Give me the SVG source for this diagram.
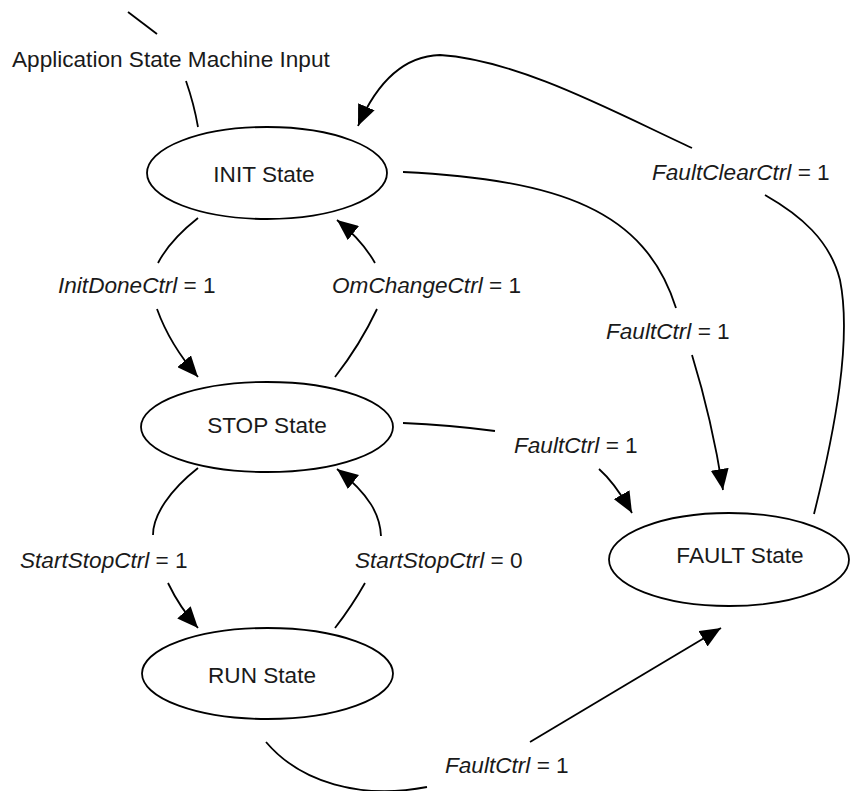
<svg xmlns="http://www.w3.org/2000/svg" width="850" height="791" viewBox="0 0 850 791">
<style>
  .node ellipse { fill: #ffffff; stroke: #000000; stroke-width: 1.8; }
  .node text { font-family: "Liberation Sans", Arial, sans-serif; font-size: 22.6px; fill: #1a1a1a; text-anchor: middle; }
  .edges path { fill: none; stroke: #000000; stroke-width: 1.8; }
  .lbl { font-family: "Liberation Sans", Arial, sans-serif; font-size: 22.6px; fill: #1a1a1a; }
  .it { font-style: italic; }
</style>
<defs>
  <marker id="arr" markerUnits="userSpaceOnUse" markerWidth="21" markerHeight="18" refX="21" refY="9" orient="auto">
    <path d="M0,0 L21,9 L0,18 z" fill="#000000"/>
  </marker>
</defs>
<rect width="850" height="791" fill="#ffffff"/>

<g id="edges" class="edges">
  <!-- input -->
  <path d="M128,12 L157,34"/>
  <path d="M186,81 Q194,104 198,127"/>
  <!-- FaultClearCtrl: FAULT -> INIT -->
  <path d="M814,514 C835,430 852,340 840,280 C830,240 800,215 765,195"/>
  <path d="M692,148 C620,115 520,60 440,55 C405,56 378,80 358,126" marker-end="url(#arr)"/>
  <!-- FaultCtrl: INIT -> FAULT -->
  <path d="M403,172 C560,180 645,210 676,308"/>
  <path d="M692,355 Q712,420 723,490" marker-end="url(#arr)"/>
  <!-- FaultCtrl: STOP -> FAULT -->
  <path d="M403,423 Q450,425 495,431"/>
  <path d="M599,469 Q615,483 632,513" marker-end="url(#arr)"/>
  <!-- InitDoneCtrl: INIT -> STOP -->
  <path d="M198,218 Q170,240 158,263"/>
  <path d="M157,309 Q170,345 198,377" marker-end="url(#arr)"/>
  <!-- OmChangeCtrl: STOP -> INIT -->
  <path d="M335,377 Q360,345 377,309"/>
  <path d="M375,263 Q362,240 337,220" marker-end="url(#arr)"/>
  <!-- StartStopCtrl=1: STOP -> RUN -->
  <path d="M198,468 C170,490 153,515 153,535"/>
  <path d="M168,583 Q180,608 198,628" marker-end="url(#arr)"/>
  <!-- StartStopCtrl=0: RUN -> STOP -->
  <path d="M335,628 Q352,606 365,583"/>
  <path d="M381,536 C380,515 370,495 337,469" marker-end="url(#arr)"/>
  <!-- FaultCtrl: RUN -> FAULT -->
  <path d="M266,742 C300,782 360,800 427,787"/>
  <path d="M530,742 L721,628" marker-end="url(#arr)"/>
</g>

<g id="labels">
  <text class="lbl" x="12" y="67">Application State Machine Input</text>
  <text class="lbl" x="652" y="180"><tspan class="it">FaultClearCtrl</tspan> = 1</text>
  <text class="lbl" x="606" y="339"><tspan class="it">FaultCtrl</tspan> = 1</text>
  <text class="lbl" x="514" y="453"><tspan class="it">FaultCtrl</tspan> = 1</text>
  <text class="lbl" x="58" y="293"><tspan class="it">InitDoneCtrl</tspan> = 1</text>
  <text class="lbl" x="332" y="293"><tspan class="it">OmChangeCtrl</tspan> = 1</text>
  <text class="lbl" x="20" y="568"><tspan class="it">StartStopCtrl</tspan> = 1</text>
  <text class="lbl" x="355" y="568"><tspan class="it">StartStopCtrl</tspan> = 0</text>
  <text class="lbl" x="445" y="773"><tspan class="it">FaultCtrl</tspan> = 1</text>
</g>

<g id="init" class="node">
  <ellipse cx="267" cy="173" rx="120" ry="46"/>
  <text x="264" y="182">INIT State</text>
</g>
<g id="stop" class="node">
  <ellipse cx="267" cy="427" rx="126" ry="45"/>
  <text x="267" y="433">STOP State</text>
</g>
<g id="run" class="node">
  <ellipse cx="267.5" cy="673.5" rx="125.5" ry="45.5"/>
  <text x="262" y="683">RUN State</text>
</g>
<g id="fault" class="node">
  <ellipse cx="729" cy="559.5" rx="120" ry="46.5"/>
  <text x="740" y="563">FAULT State</text>
</g>
</svg>
